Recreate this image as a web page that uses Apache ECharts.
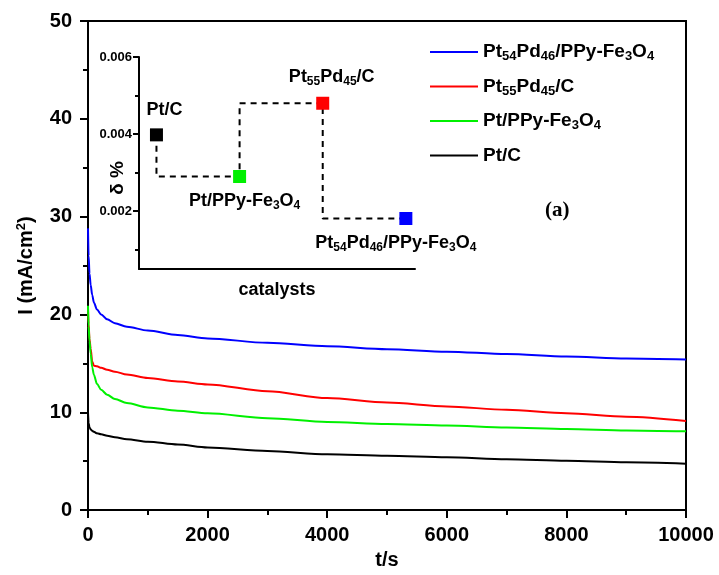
<!DOCTYPE html>
<html>
<head>
<meta charset="utf-8">
<script src="https://cdn.jsdelivr.net/npm/echarts@6/dist/echarts.min.js"></script>
<style>
html, body { margin: 0; padding: 0; background: #fff; }
#main { width: 719px; height: 575px; }
</style>
</head>
<body>
<div id="main"></div>
<script>
// chronoamperometry curves (I vs t)
var times = [0, 10, 25, 45, 70, 100, 150, 220, 320, 450, 650, 1000, 1500, 2000, 3000, 4000, 5000, 6000, 7000, 8000, 9000, 10000];
var seriesNames = ['Pt54Pd46/PPy-Fe3O4', 'Pt55Pd45/C', 'Pt/PPy-Fe3O4', 'Pt/C'];
var seriesColors = ['#0000ff', '#ff0000', '#00f000', '#000000'];
var ptPdPPy = [28.8, 26.0, 24.2, 23.0, 22.0, 21.2, 20.5, 20.0, 19.5, 19.1, 18.75, 18.35, 17.9, 17.55, 17.1, 16.75, 16.45, 16.2, 15.95, 15.7, 15.5, 15.4];
var ptPdC = [20.6, 19.0, 17.5, 16.5, 15.2, 14.75, 14.7, 14.55, 14.35, 14.15, 13.85, 13.5, 13.15, 12.85, 12.15, 11.45, 11.0, 10.6, 10.25, 9.9, 9.55, 9.1];
var ptPPy = [20.9, 18.8, 17.3, 16.0, 14.6, 13.8, 12.9, 12.3, 11.8, 11.35, 10.95, 10.5, 10.15, 9.9, 9.4, 9.0, 8.8, 8.65, 8.45, 8.3, 8.15, 8.05];
var ptC = [10.0, 8.9, 8.45, 8.25, 8.1, 8.0, 7.85, 7.75, 7.6, 7.45, 7.25, 7.0, 6.7, 6.4, 6.05, 5.7, 5.55, 5.4, 5.2, 5.05, 4.9, 4.75];
var seriesValues = [ptPdPPy, ptPdC, ptPPy, ptC];

// inset: delta % per catalyst
var insetCats = ['Pt/C', 'Pt/PPy-Fe3O4', 'Pt55Pd45/C', 'Pt54Pd46/PPy-Fe3O4'];
var insetDelta = [0.00398, 0.0029, 0.0048, 0.00181];
var insetColors = ['#000000', '#00f000', '#ff0000', '#0000ff'];
var insetTicks = [0.002, 0.004, 0.006];
var insetMinorTicks = [0.001, 0.003, 0.005];

var FONT = 'Arial, "Liberation Sans", sans-serif';

// digits in formulas -> subscripts
function sub(name) {
    return name.replace(/(\d+)/g, '{s|$1}');
}

var myChart = echarts.init(document.getElementById('main'));

var mainSeries = seriesNames.map(function (name, k) {
    return {
        name: name,
        type: 'line',
        xAxisIndex: 0,
        yAxisIndex: 0,
        showSymbol: false,
        smooth: 0.3,
        smoothMonotone: 'x',
        color: seriesColors[k],
        lineStyle: { width: 2, color: seriesColors[k] },
        data: times.map(function (t, i) { return [t, seriesValues[k][i]]; }),
        z: 3
    };
});

var labelPos = ['top', 'bottom', 'top', 'bottom'];
var labelOffset = [[8, -2], [5, 2], [9, -4], [-10, 2]];

var insetSeries = {
    type: 'line',
    xAxisIndex: 1,
    yAxisIndex: 1,
    step: 'start',
    symbol: 'rect',
    symbolSize: 13,
    lineStyle: { color: '#000', width: 2, type: [6, 5] },
    data: insetDelta.map(function (v, i) {
        return {
            value: [i, v],
            itemStyle: { color: insetColors[i] },
            label: {
                show: true,
                position: labelPos[i],
                distance: 5,
                offset: labelOffset[i],
                formatter: sub(insetCats[i]),
                color: '#000',
                fontFamily: FONT,
                fontWeight: 'bold',
                fontSize: 18,
                lineHeight: 22,
                rich: {
                    s: { fontSize: 12, fontWeight: 'bold', fontFamily: FONT, lineHeight: 12, verticalAlign: 'bottom', color: '#000' }
                }
            }
        };
    }),
    z: 5
};

var option = {
    animation: false,
    backgroundColor: '#fff',
    legend: {
        data: seriesNames,
        orient: 'vertical',
        left: 430,
        top: 41,
        padding: 0,
        itemWidth: 48,
        itemHeight: 2,
        itemGap: 12.5,
        icon: 'rect',
        selectedMode: false,
        formatter: function (name) { return sub(name); },
        textStyle: {
            color: '#000',
            fontFamily: FONT,
            fontWeight: 'bold',
            fontSize: 19,
            lineHeight: 22,
            rich: {
                s: { fontSize: 13, fontWeight: 'bold', fontFamily: FONT, lineHeight: 12, verticalAlign: 'bottom', color: '#000' }
            }
        }
    },
    grid: [
        { left: 88, top: 21, width: 598, height: 491, show: true, borderColor: '#000', borderWidth: 2, backgroundColor: 'transparent' },
        { left: 139, top: 57, width: 276, height: 212 }
    ],
    xAxis: [
        {
            type: 'value', gridIndex: 0, min: 0, max: 10000, interval: 2000,
            axisLine: { onZero: false, lineStyle: { color: '#000', width: 2 } },
            axisTick: { length: 8, lineStyle: { color: '#000', width: 2 } },
            minorTick: { show: true, splitNumber: 2, length: 5, lineStyle: { color: '#000', width: 2 } },
            splitLine: { show: false },
            axisLabel: {
                color: '#000', fontFamily: FONT, fontWeight: 'bold', fontSize: 20, margin: 15,
                formatter: function (v) { return String(v); }
            },
            name: 't/s', nameLocation: 'middle', nameGap: 33,
            nameTextStyle: { color: '#000', fontFamily: FONT, fontWeight: 'bold', fontSize: 20 }
        },
        {
            type: 'value', gridIndex: 1, min: -0.21, max: 3.11,
            axisLine: { onZero: false, lineStyle: { color: '#000', width: 2 } },
            axisTick: { show: false },
            axisLabel: { show: false },
            splitLine: { show: false },
            name: 'catalysts', nameLocation: 'middle', nameGap: 12,
            nameTextStyle: { color: '#000', fontFamily: FONT, fontWeight: 'bold', fontSize: 18 }
        }
    ],
    yAxis: [
        {
            type: 'value', gridIndex: 0, min: 0, max: 50, interval: 10,
            axisLine: { onZero: false, lineStyle: { color: '#000', width: 2 } },
            axisTick: { length: 8, lineStyle: { color: '#000', width: 2 } },
            minorTick: { show: true, splitNumber: 2, length: 5, lineStyle: { color: '#000', width: 2 } },
            splitLine: { show: false },
            axisLabel: { color: '#000', fontFamily: FONT, fontWeight: 'bold', fontSize: 20, margin: 16 },
            name: 'I (mA/cm{p|2})', nameLocation: 'middle', nameGap: 48,
            nameTextStyle: {
                color: '#000', fontFamily: FONT, fontWeight: 'bold', fontSize: 20, lineHeight: 24,
                rich: { p: { fontSize: 13, fontWeight: 'bold', fontFamily: FONT, lineHeight: 13, verticalAlign: 'top', color: '#000' } }
            }
        },
        {
            type: 'value', gridIndex: 1, min: 0.0005, max: 0.006, position: 'left',
            axisLine: { onZero: false, lineStyle: { color: '#000', width: 2 } },
            axisTick: { length: 6, customValues: insetTicks, lineStyle: { color: '#000', width: 2 } },
            splitLine: { show: false },
            axisLabel: {
                customValues: insetTicks, color: '#000', fontFamily: FONT, fontWeight: 'bold', fontSize: 13, margin: 7,
                formatter: function (v) { return v.toFixed(3); }
            }
        },
        {
            // minor ticks of the inset axis
            type: 'value', gridIndex: 1, min: 0.0005, max: 0.006, position: 'left', offset: 0,
            axisLine: { show: false, onZero: false },
            axisTick: { length: 4, customValues: insetMinorTicks, lineStyle: { color: '#000', width: 2 } },
            splitLine: { show: false },
            axisLabel: { show: false }
        }
    ],
    graphic: [
        {
            type: 'text', left: 545, top: 200, z: 10,
            style: { text: '(a)', fill: '#000', font: 'bold 21px "Liberation Serif", "Times New Roman", serif' }
        },
        {
            type: 'text', x: 118, y: 178, rotation: Math.PI / 2, z: 10,
            style: { text: 'δ %', fill: '#000', font: 'bold 19px ' + FONT, align: 'center', verticalAlign: 'middle' }
        }
    ],
    series: mainSeries.concat([insetSeries])
};

myChart.setOption(option);
</script>
</body>
</html>
